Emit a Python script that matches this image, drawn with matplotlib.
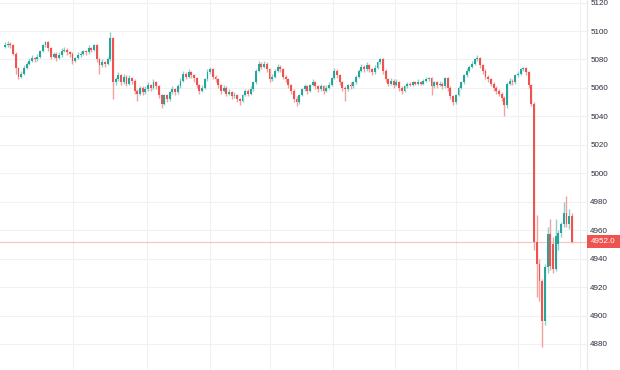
import matplotlib
matplotlib.use("Agg")
import matplotlib.pyplot as plt
import matplotlib.transforms as mtrans
from matplotlib.patches import Rectangle
import numpy as np

opens = [5089,5090,5091,5090,5084,5074,5068,5070,5074,5077,5079,5081,5080,5082,5086,5090,5092,5088,5082,5084,
         5081,5083,5086,5087,5085,5084,5079,5081,5083,5084,5086,5085,5088,5087,5090,5080,5076,5078,5077,5080,
         5095,5064,5066,5069,5064,5068,5063,5067,5065,5058,5056,5060,5057,5059,5062,5060,5064,5061,5055,5049,
         5055,5052,5057,5059,5057,5061,5065,5070,5068,5071,5069,5067,5062,5058,5060,5066,5071,5073,5068,5066,
         5062,5058,5060,5056,5057,5054,5055,5052,5051,5055,5058,5056,5059,5064,5072,5077,5075,5077,5073,5066,
         5068,5072,5075,5073,5068,5066,5062,5058,5052,5050,5055,5059,5061,5058,5062,5064,5061,5059,5061,5058,
         5060,5062,5067,5072,5069,5064,5060,5059,5062,5061,5064,5068,5072,5075,5073,5076,5073,5071,5074,5078,
         5080,5072,5066,5063,5065,5062,5064,5060,5058,5061,5063,5062,5064,5063,5064,5063,5065,5066,5067,5061,
         5064,5062,5063,5061,5067,5060,5054,5050,5055,5060,5064,5069,5072,5075,5077,5080,5081,5076,5072,5068,
         5066,5063,5060,5058,5056,5053,5048,5063,5065,5064,5069,5070,5073,5074,5071,5062,5049,4952,4936,4924,
         4896,4934,4957,4950,4933,4950,4958,4964,4972,4964,4970]
closes = [5090,5091,5090,5084,5074,5068,5070,5074,5077,5079,5081,5080,5082,5086,5090,5092,5088,5082,5084,5081,
          5083,5086,5087,5085,5084,5079,5081,5083,5084,5086,5085,5088,5087,5090,5080,5076,5078,5077,5080,5095,
          5064,5066,5069,5064,5068,5063,5067,5065,5058,5056,5060,5057,5059,5062,5060,5064,5061,5055,5049,5055,
          5052,5057,5059,5057,5061,5065,5070,5068,5071,5069,5067,5062,5058,5060,5066,5071,5073,5068,5066,5062,
          5058,5060,5056,5057,5054,5055,5052,5051,5055,5058,5056,5059,5064,5072,5077,5075,5077,5073,5066,5068,
          5072,5075,5073,5068,5066,5062,5058,5052,5050,5055,5059,5061,5058,5062,5064,5061,5059,5061,5058,5060,
          5062,5067,5072,5069,5064,5060,5059,5062,5061,5064,5068,5072,5075,5073,5076,5073,5071,5074,5078,5080,
          5072,5066,5063,5065,5062,5064,5060,5058,5061,5063,5062,5064,5063,5064,5063,5065,5066,5067,5061,5064,
          5062,5063,5061,5067,5060,5054,5050,5055,5060,5064,5069,5072,5075,5077,5080,5081,5076,5072,5068,5066,
          5063,5060,5058,5056,5053,5048,5063,5065,5064,5069,5070,5073,5074,5071,5062,5049,4952,4936,4924,4896,
          4934,4957,4935,4933,4956,4958,4964,4972,4964,4970,4952]
highs = [5092,5093,5092,5091,5085,5075,5072,5076,5078,5081,5083,5082,5084,5087,5091,5093,5093,5089,5085,5085,
         5085,5088,5089,5088,5086,5085,5082,5085,5086,5087,5087,5090,5089,5091,5091,5081,5080,5079,5082,5099,
         5096,5068,5071,5070,5070,5069,5069,5068,5066,5059,5061,5061,5061,5064,5063,5066,5065,5062,5056,5056,
         5056,5058,5061,5060,5063,5067,5072,5071,5073,5072,5070,5068,5063,5062,5067,5073,5075,5074,5069,5067,
         5063,5062,5061,5059,5058,5057,5056,5053,5056,5059,5059,5061,5065,5073,5079,5078,5079,5078,5074,5070,
         5073,5077,5076,5074,5069,5067,5063,5059,5054,5056,5060,5063,5062,5063,5066,5065,5062,5063,5062,5062,
         5064,5068,5074,5073,5070,5065,5061,5063,5064,5065,5069,5073,5077,5076,5078,5077,5074,5076,5079,5081,
         5081,5073,5067,5067,5066,5066,5065,5061,5062,5064,5064,5065,5065,5066,5065,5066,5068,5068,5068,5065,
         5065,5065,5064,5068,5068,5061,5055,5056,5061,5065,5070,5074,5076,5079,5081,5083,5082,5077,5073,5069,
         5067,5064,5061,5059,5057,5054,5064,5067,5066,5070,5072,5074,5075,5075,5072,5063,5050,4971,4940,4926,
         4936,4962,4968,4955,4968,4960,4966,4980,4984,4975,4972]
lows = [5088,5089,5088,5083,5070,5066,5067,5069,5073,5076,5078,5078,5079,5081,5085,5089,5086,5080,5081,5079,
        5080,5082,5085,5083,5082,5077,5078,5080,5082,5083,5083,5084,5085,5086,5078,5070,5075,5075,5076,5079,
        5052,5062,5065,5062,5063,5061,5062,5063,5056,5051,5055,5055,5056,5058,5058,5059,5059,5053,5046,5048,
        5050,5051,5056,5055,5056,5060,5064,5066,5067,5067,5064,5060,5056,5057,5059,5065,5070,5066,5064,5060,
        5056,5057,5054,5055,5052,5053,5050,5048,5050,5054,5054,5055,5058,5063,5071,5073,5074,5071,5064,5065,
        5067,5071,5071,5066,5064,5060,5056,5050,5047,5049,5054,5058,5056,5057,5061,5059,5057,5058,5056,5057,
        5059,5061,5066,5067,5062,5058,5051,5058,5059,5060,5063,5067,5071,5071,5072,5071,5069,5070,5073,5077,
        5070,5064,5061,5062,5060,5061,5058,5056,5057,5060,5061,5061,5062,5062,5062,5062,5064,5065,5055,5060,
        5060,5061,5059,5060,5058,5052,5048,5049,5054,5059,5063,5068,5071,5074,5076,5079,5074,5070,5066,5064,
        5061,5058,5056,5054,5051,5040,5046,5062,5062,5063,5068,5069,5072,5069,5060,5047,4946,4913,4910,4878,
        4893,4930,4932,4930,4931,4946,4955,4962,4962,4961,4951]

last_price = 4952.0
y_ticks = [4880, 4900, 4920, 4940, 4960, 4980, 5000, 5020, 5040, 5060, 5080, 5100, 5120]
day_breaks = [25.2, 52.6, 75.9, 98.1, 121.5, 144.4, 167.0, 190.0, 213.0]

UP, DOWN = "#26a69a", "#ef5350"
UP_W, DOWN_W = "#8fd0c9", "#f4a09e"

fig = plt.figure(figsize=(6.2, 3.7), dpi=100)
ax = fig.add_axes([0, 0, 587 / 620, 1])

o = np.array(opens, float); c = np.array(closes, float)
h = np.array(highs, float); l = np.array(lows, float)
x = np.arange(len(c))
up = c >= o

ax.vlines(x[up], l[up], h[up], color=UP_W, lw=1.0, zorder=2)
ax.vlines(x[~up], l[~up], h[~up], color=DOWN_W, lw=1.0, zorder=2)
body = np.maximum(np.abs(c - o), 0.7)
bottom = np.minimum(o, c)
ax.bar(x[up], body[up], bottom=bottom[up], width=0.7, color=UP, lw=0, zorder=3)
ax.bar(x[~up], body[~up], bottom=bottom[~up], width=0.7, color=DOWN, lw=0, zorder=3)

ax.set_xlim(-1.85, 215.6)
ax.set_ylim(4861.7, 5121.8)

for yt in y_ticks:
    ax.axhline(yt, color="#eff1f4", lw=0.8, zorder=0)
for xd in day_breaks:
    ax.axvline(xd, color="#eff1f4", lw=0.8, zorder=0)

ax.axhline(last_price, color=DOWN, lw=0.8, alpha=0.35, zorder=1)

for s in ["top", "left", "bottom"]:
    ax.spines[s].set_visible(False)
ax.spines["right"].set_color("#e6e8ec")
ax.spines["right"].set_linewidth(0.8)
ax.set_xticks([])
ax.yaxis.tick_right()
ax.set_yticks(y_ticks)
ax.set_yticklabels([str(t) for t in y_ticks])
ax.tick_params(axis="y", length=0, pad=2.3, labelsize=5.8, labelcolor="#2a2e39")
for t in ax.get_yticklabels():
    t.set_fontfamily("Liberation Sans")

tr = mtrans.blended_transform_factory(fig.transFigure, ax.transData)
ax.add_patch(Rectangle((587 / 620, last_price - 4.4), 33 / 620, 8.8, transform=tr,
                       facecolor=DOWN, edgecolor="none", clip_on=False, zorder=10))
ax.text(603.5 / 620, last_price, f"{last_price:.1f}", transform=tr, ha="center", va="center",
        color="white", fontsize=5.8, family="Liberation Sans", clip_on=False, zorder=11)

fig.savefig("out.png", dpi=100)
